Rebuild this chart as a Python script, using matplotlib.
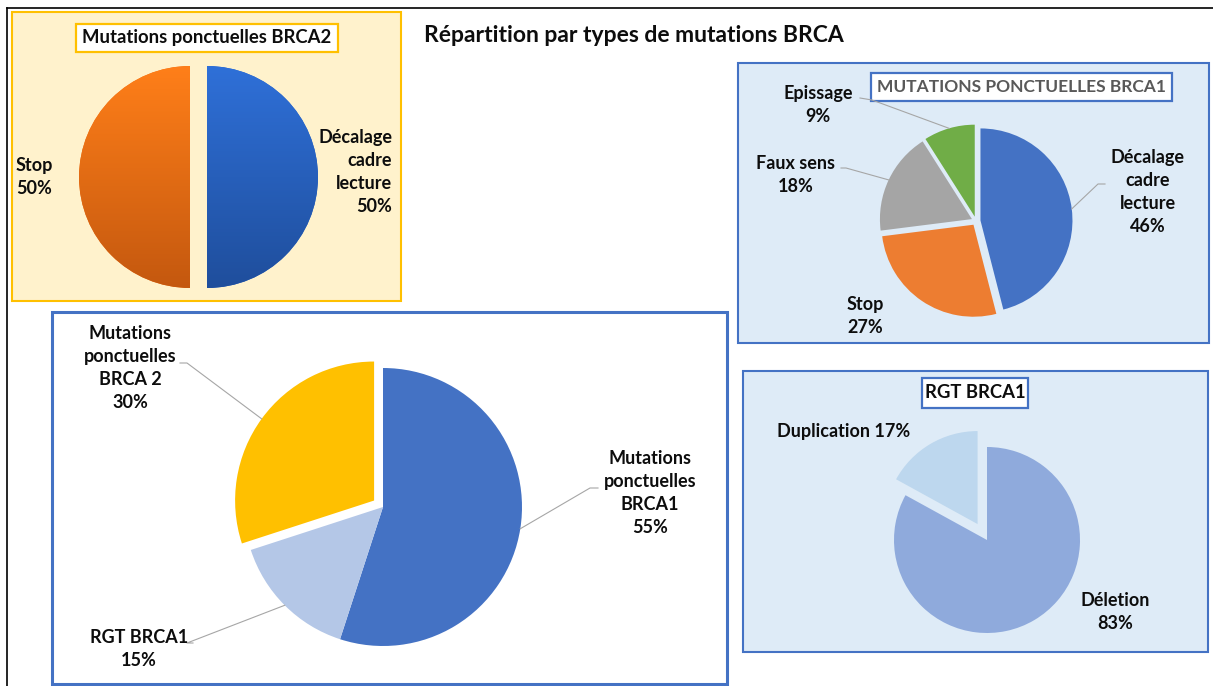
import numpy as np
import matplotlib.pyplot as plt
from matplotlib.patches import Rectangle
from matplotlib.colors import to_rgb

plt.rcParams['font.family'] = ['Lato', 'DejaVu Sans']

W, H = 1213, 686

# --- data ---
brca2_labels = ['Décalage\ncadre\nlecture', 'Stop']
brca2_values = [50, 50]

brca1_labels = ['Décalage\ncadre\nlecture', 'Stop', 'Faux sens', 'Epissage']
brca1_values = [46, 27, 18, 9]

rgt_labels = ['Déletion', 'Duplication']
rgt_values = [83, 17]

all_labels = ['Mutations\nponctuelles\nBRCA1', 'RGT BRCA1', 'Mutations\nponctuelles\nBRCA 2']
all_values = [55, 15, 30]

fig = plt.figure(figsize=(W / 100, H / 100), dpi=100)
ax = fig.add_axes([0, 0, 1, 1])

TXT = '#0d0d0d'
LEAD = '#A6A6A6'


def panel(x0, y0, x1, y1, face, edge, lw):
    # pixel box given in image rows (y down)
    ax.add_patch(Rectangle((x0, H - y1), x1 - x0, y1 - y0, facecolor=face,
                           edgecolor=edge, linewidth=lw, zorder=0))


def title_box(x0, y0, x1, y1, edge, text, color=TXT, size=13.3):
    panel(x0, y0, x1, y1, 'white', edge, 1.6)
    ax.text((x0 + x1) / 2, H - (y0 + y1) / 2, text, ha='center', va='center',
            fontsize=size, fontweight='bold', color=color, zorder=5)


def label(x, y, text, ha='center'):
    ax.text(x, H - y, text, ha=ha, va='center', fontsize=13, fontweight='bold',
            color=TXT, linespacing=1.45, zorder=5)


def leader(w, pts):
    # line from label side points to the middle of the wedge arc
    a = np.deg2rad((w.theta1 + w.theta2) / 2)
    cx, cy = w.center
    xs = [p[0] for p in pts] + [cx + w.r * np.cos(a)]
    ys = [H - p[1] for p in pts] + [cy + w.r * np.sin(a)]
    ax.plot(xs, ys, color=LEAD, lw=0.8, zorder=4)


# outer frame lines of the screenshot
ax.plot([7, W], [H - 8, H - 8], color='black', lw=1.2)
ax.plot([7, 7], [0, H - 8], color='black', lw=1.2)

ax.text(424, H - 35, 'Répartition par types de mutations BRCA', ha='left', va='center',
        fontsize=16.5, fontweight='bold', color=TXT)

# --- BRCA2 panel ---  (explode given in pixels)
panel(12, 12, 401, 301, '#FFF2CC', '#FFC000', 1.5)
title_box(76, 24, 338, 52, '#FFC000', 'Mutations ponctuelles BRCA2')
w2, _ = ax.pie(brca2_values, startangle=90, counterclock=False,
               center=(198.5, H - 177), radius=111, explode=[8.5, 8.5],
               colors=['#2B67CC', '#F0741A'], frame=True,
               wedgeprops=dict(linewidth=0))
grads = [('#2F70D8', '#1F4E9C'), ('#FF7F19', '#C4580F')]
g = np.linspace(0, 1, 256)[:, None, None]
for w, (c0, c1) in zip(w2, grads):
    img = (1 - g) * np.array(to_rgb(c0)) + g * np.array(to_rgb(c1))
    cx, cy = w.center
    im = ax.imshow(img, extent=(cx - w.r, cx + w.r, cy - w.r, cy + w.r),
                   origin='upper', aspect='auto', zorder=2)
    im.set_clip_path(w)
label(392, 172, f'{brca2_labels[0]}\n{brca2_values[0]}%', ha='right')
label(16, 177, f'{brca2_labels[1]}\n{brca2_values[1]}%', ha='left')

# --- BRCA1 panel ---
panel(738, 63, 1209, 343, '#DEEBF7', '#4472C4', 1.5)
title_box(871, 73, 1172, 101, '#4472C4', 'MUTATIONS PONCTUELLES BRCA1',
          color='#595959', size=12.5)
w1, _ = ax.pie(brca1_values, startangle=90, counterclock=False,
               center=(976, H - 221), radius=92, explode=[4.5] * 4,
               colors=['#4472C4', '#ED7D31', '#A5A5A5', '#70AD47'], frame=True,
               wedgeprops=dict(linewidth=0))
label(1148, 192, f'{brca1_labels[0]}\n{brca1_values[0]}%')
label(865, 316, f'{brca1_labels[1]}\n{brca1_values[1]}%')
label(796, 175, f'{brca1_labels[2]}\n{brca1_values[2]}%')
label(818, 105, f'{brca1_labels[3]}\n{brca1_values[3]}%')
leader(w1[0], [(1105, 184), (1098, 184)])
leader(w1[2], [(841, 168), (846, 168)])
leader(w1[3], [(860, 98), (872, 100)])

# --- RGT BRCA1 panel ---
panel(743, 371, 1208, 652, '#DEEBF7', '#4472C4', 1.5)
title_box(922, 378, 1028, 408, '#4472C4', 'RGT BRCA1')
wr, _ = ax.pie(rgt_values, startangle=90, counterclock=False,
               center=(987, H - 540), radius=93, explode=[0, 18.5],
               colors=['#8FAADC', '#BDD7EE'], frame=True,
               wedgeprops=dict(linewidth=0))
label(1115, 612, f'{rgt_labels[0]}\n{rgt_values[0]}%')
label(844, 432, f'{rgt_labels[1]} {rgt_values[1]}%')

# --- overall panel ---
panel(52, 312, 727, 684, 'white', '#4472C4', 2.2)
wa, _ = ax.pie(all_values, startangle=90, counterclock=False,
               center=(383, H - 507), radius=139, explode=[0, 0, 11],
               colors=['#4472C4', '#B4C7E7', '#FFC000'], frame=True,
               wedgeprops=dict(linewidth=0))
label(650, 493, f'{all_labels[0]}\n{all_values[0]}%')
label(139, 649, f'{all_labels[1]}\n{all_values[1]}%')
label(130, 368, f'{all_labels[2]}\n{all_values[2]}%')
leader(wa[0], [(598, 488), (590, 488)])
leader(wa[1], [(193, 643), (187, 643)])
leader(wa[2], [(180, 363), (187, 363)])

ax.set_xlim(0, W)
ax.set_ylim(0, H)
ax.axis('off')
fig.savefig('out.png', dpi=100, facecolor='white')
